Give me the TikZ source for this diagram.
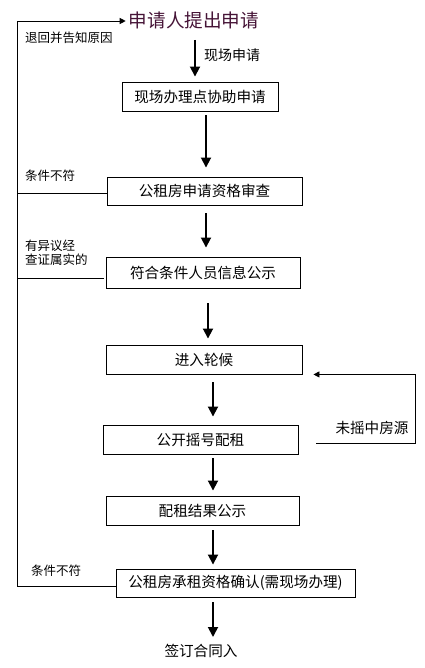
\documentclass[tikz,border=0pt]{standalone}
\usepackage{fontspec}
\newfontfamily\cjk{Noto Sans CJK SC}
\usetikzlibrary{arrows.meta}
\definecolor{headcol}{RGB}{70,20,55}
\tikzset{
  box/.style={draw, line width=0.9pt, inner sep=0pt, font=\cjk\fontsize{14.6}{17}\selectfont},
  lbl/.style={inner sep=0pt, font=\cjk\fontsize{12.5}{14}\selectfont},
  arr/.style={line width=1.8pt, -{Triangle[length=10pt,width=10pt]}},
  thinline/.style={line width=0.9pt},
  thinarr/.style={line width=0.9pt, -{Triangle[length=6pt,width=6pt]}}
}
\begin{document}
\begin{tikzpicture}[x=1pt,y=-1pt]
\fill[white] (0,0) rectangle (424,668);
\useasboundingbox (0,0) rectangle (424,668);

% heading and boxes
\node[inner sep=0pt, text=headcol, font=\cjk\fontsize{18.6}{20}\selectfont] (head) at (194,20.5) {申请人提出申请};
\node[box, minimum width=156pt, minimum height=29pt] (b1) at (200,96.5) {现场办理点协助申请};
\node[box, minimum width=195pt, minimum height=28pt] (b2) at (204.5,191) {公租房申请资格审查};
\node[box, minimum width=194pt, minimum height=31pt] (b3) at (203,272.5) {符合条件人员信息公示};
\node[box, minimum width=196pt, minimum height=29pt] (b4) at (204,359.5) {进入轮候};
\node[box, minimum width=195pt, minimum height=29pt] (b5) at (200.5,439.5) {公开摇号配租};
\node[box, minimum width=193pt, minimum height=29pt] (b6) at (202.5,510.5) {配租结果公示};
\node[box, minimum width=239pt, minimum height=28pt] (b7) at (235.5,583) {公租房承租资格确认(需现场办理)};
\node[inner sep=0pt, font=\cjk\fontsize{14.6}{17}\selectfont] (fin) at (201,651) {签订合同入};

% labels
\node[lbl, anchor=west] (l0) at (25,38) {退回并告知原因};
\node[inner sep=0pt, anchor=west, font=\cjk\fontsize{14}{16}\selectfont] (l1) at (204,55) {现场申请};
\node[lbl, anchor=west] (l2) at (25,176) {条件不符};
\node[lbl, anchor=west, align=left, font=\cjk\fontsize{12.5}{14}\selectfont] (l3) at (25,253) {有异议经\\查证属实的};
\node[lbl, anchor=west] (l4) at (31,571) {条件不符};
\node[inner sep=0pt, font=\cjk\fontsize{14.6}{17}\selectfont] (l5) at (372,428) {未摇中房源};

% main arrows
\draw[arr] ([xshift=1pt,yshift=-19.5pt]head.center) -- ([xshift=-5pt,yshift=5pt]b1.north);
\draw[arr] ([xshift=6pt,yshift=-4pt]b1.south) -- ([xshift=1.5pt,yshift=9pt]b2.north);
\draw[arr] ([xshift=1.5pt,yshift=-8pt]b2.south) -- ([xshift=3pt,yshift=9pt]b3.north);
\draw[arr] ([xshift=5pt,yshift=-15pt]b3.south) -- ([xshift=4pt,yshift=6pt]b4.north);
\draw[arr] ([xshift=9pt,yshift=-8pt]b4.south) -- ([xshift=12.5pt,yshift=8pt]b5.north);
\draw[arr] ([xshift=12.5pt,yshift=-4pt]b5.south) -- ([xshift=10.5pt,yshift=5pt]b6.north);
\draw[arr] ([xshift=10.5pt,yshift=-5pt]b6.south) -- ([xshift=-22.5pt,yshift=4pt]b7.north);
\draw[arr] ([xshift=-22.5pt,yshift=-5pt]b7.south) -- ([xshift=12pt,yshift=14pt]fin.center);

% left return line
\coordinate (tl) at (17,21);
\coordinate (bl) at (17,586);
\draw[thinarr] (bl) -- (tl) -- ([xshift=-3pt]head.west |- tl);
\coordinate (c2) at ([yshift=-2pt]b2.west);
\coordinate (c3) at ([xshift=-2pt,yshift=-5.5pt]b3.west);
\coordinate (c7) at ([yshift=-3pt]b7.west);
\draw[thinline] (c2) -- (c2 -| bl);
\draw[thinline] (c3) -- (c3 -| bl);
\draw[thinline] (c7) -- (c7 -| bl);

% feedback loop
\coordinate (fr) at (415,443);
\coordinate (fs) at ([xshift=18pt,yshift=-3.5pt]b5.east);
\draw[thinarr] (fs) -- (fr) -- (fr |- b4.south) -- ([xshift=11pt]b4.south east);
\end{tikzpicture}
\end{document}
